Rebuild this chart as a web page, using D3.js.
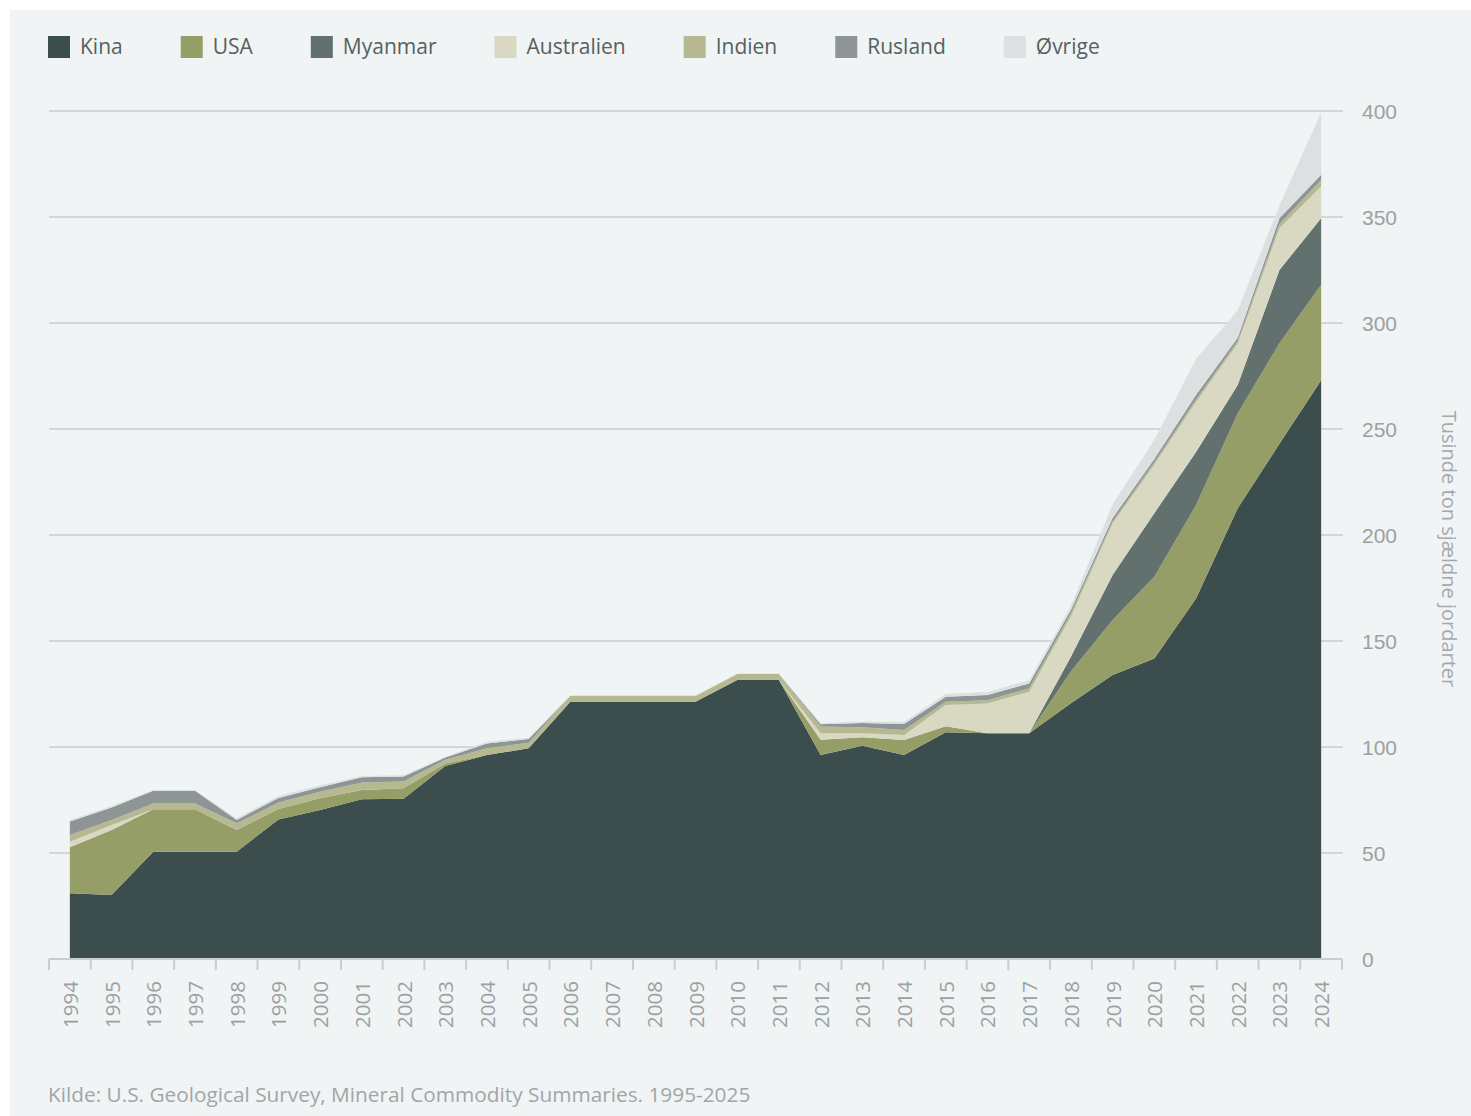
<!DOCTYPE html>
<html>
<head>
<meta charset="utf-8">
<script src="https://cdn.jsdelivr.net/npm/d3@7"></script>
<style>
  html, body { margin: 0; padding: 0; background: #fff; }
  svg { display: block; font-family: "Open Sans", "Liberation Sans", sans-serif; }
</style>
</head>
<body>
<svg id="chart" width="1471" height="1116"></svg>
<script>
// production, thousand tonnes of rare earth oxides
var years = d3.range(1994, 2025);
var series = ["Kina", "USA", "Myanmar", "Australien", "Indien", "Rusland", "Øvrige"];
var colors = ["#3b4d4c", "#969e68", "#63716e", "#d8d8c3", "#b6b88f", "#8d9695", "#dde0e0"];

var kina      = [31, 30.2, 50.6, 50.6, 50.6, 65.8, 70.3, 75.3, 75.6, 91, 96.2, 99.4, 121.4, 121.4, 121.4, 121.4, 131.6, 131.6, 96.2, 100.6, 96.2, 107, 106.5, 106.5, 120.6, 134, 141.8, 170.1, 212.6, 243, 273];
var usa       = [21.7, 30.6, 20, 20, 10.2, 5, 5.5, 4.4, 5, 1.2, 0, 0, 0, 0, 0, 0, 0, 0, 7.2, 4, 7.1, 2.8, 0, 0, 15, 25.9, 38.5, 44, 44.8, 47.4, 45];
var myanmar   = [0, 0, 0, 0, 0, 0, 0, 0, 0, 0, 0, 0, 0, 0, 0, 0, 0, 0, 0, 0, 0, 0, 0, 0, 7, 21.2, 30, 25, 13.4, 34.6, 31.4];
var australia = [2.6, 2.4, 0, 0, 0, 0, 0, 0, 0, 0, 0, 0, 0, 0, 0, 0, 0, 0, 3.1, 1.9, 2.4, 10, 14, 19.6, 19, 24.4, 22.8, 23.6, 19.5, 19.7, 15];
var indien    = [3.2, 2.4, 2.8, 2.8, 3.2, 3, 3.1, 3.5, 3.1, 1.8, 3.2, 2.6, 2.7, 2.7, 2.7, 2.7, 2.8, 2.8, 3.2, 2.8, 2.3, 1.6, 1.5, 1.6, 1.5, 1, 1.2, 1.3, 1.2, 2, 3];
var rusland   = [6.3, 5.9, 6, 6, 1.6, 2.2, 2.1, 2.5, 2.4, 1, 2.3, 1.8, 0, 0, 0, 0, 0, 0, 1, 2, 2.8, 2.3, 2.5, 2.3, 1.5, 1.5, 1.5, 2, 1.5, 2.7, 2.5];
var ovrige    = [0.8, 0.7, 0.3, 0.3, 0.8, 0.9, 1, 0.6, 0.6, 0.4, 0.8, 0.6, 0.3, 0.3, 0.3, 0.3, 0.3, 0.3, 0.6, 0.7, 1.1, 1.3, 1.5, 1.5, 2, 6.5, 9, 17, 13, 6, 29.5];
var yTicks = [0, 50, 100, 150, 200, 250, 300, 350, 400];

var table = years.map(function(yr, i) {
  return {
    year: yr,
    "Kina": kina[i], "USA": usa[i], "Myanmar": myanmar[i], "Australien": australia[i],
    "Indien": indien[i], "Rusland": rusland[i], "Øvrige": ovrige[i]
  };
});

var svg = d3.select("#chart");

svg.append("rect")
  .attr("x", 10).attr("y", 10)
  .attr("width", 1461).attr("height", 1106)
  .attr("fill", "#f0f4f5");

var x = d3.scaleBand().domain(years).range([49, 1342]).padding(0),
    y = d3.scaleLinear().domain([0, 400]).range([959, 111]),
    color = d3.scaleOrdinal().domain(series).range(colors);

var cx = function(yr) { return x(yr) + x.bandwidth() / 2; };

//
// grid + right axis
var grid = svg.append("g").attr("class", "grid");
grid.selectAll("line")
  .data(yTicks.filter(function(d) { return d > 0; }))
  .enter().append("line")
  .attr("x1", 49).attr("x2", 1343)
  .attr("y1", y).attr("y2", y)
  .attr("stroke", "#d3d7d9").attr("stroke-width", 2);

svg.append("g")
  .attr("transform", "translate(1343,1)")
  .call(d3.axisRight(y).tickValues(yTicks).tickSize(0).tickPadding(19))
  .call(function(g) {
    g.select(".domain").remove();
    g.selectAll("text")
      .attr("fill", "#9ba1a2")
      .style("font-size", "21px");
  });

svg.append("text")
  .attr("transform", "translate(1442,549) rotate(90)")
  .attr("text-anchor", "middle")
  .attr("fill", "#a4aaab")
  .style("font-size", "20px")
  .text("Tusinde ton sjældne jordarter");

//
// stacked areas
var stack = d3.stack().keys(series);
var area = d3.area()
  .x(function(d) { return cx(d.data.year); })
  .y0(function(d) { return y(d[0]); })
  .y1(function(d) { return y(d[1]); });

svg.append("g").selectAll("path")
  .data(stack(table))
  .enter().append("path")
  .attr("d", area)
  .attr("fill", function(d) { return color(d.key); });

//
// bottom axis, ticks on band edges
var xAxis = svg.append("g").attr("transform", "translate(0,959)");
xAxis.append("line")
  .attr("x1", 49).attr("x2", 1342)
  .attr("stroke", "#c9cdcf").attr("stroke-width", 2);
xAxis.selectAll("line.tick")
  .data(years.concat([2025]))
  .enter().append("line")
  .attr("class", "tick")
  .attr("x1", function(d, i) { return 49 + i * x.bandwidth(); })
  .attr("x2", function(d, i) { return 49 + i * x.bandwidth(); })
  .attr("y1", 0).attr("y2", 11)
  .attr("stroke", "#c9cdcf").attr("stroke-width", 2);
xAxis.selectAll("text")
  .data(years)
  .enter().append("text")
  .attr("transform", function(d) { return "translate(" + (cx(d) + 8) + ",22) rotate(-90)"; })
  .attr("text-anchor", "end")
  .attr("fill", "#9ba1a2")
  .style("font-size", "20.5px")
  .text(String);

//
// legend
var legend = svg.append("g").attr("transform", "translate(48,36)");
var lx = 0;
series.forEach(function(s) {
  var item = legend.append("g").attr("transform", "translate(" + lx + ",0)");
  item.append("rect").attr("width", 22).attr("height", 22).attr("fill", color(s));
  var t = item.append("text")
    .attr("x", 32).attr("y", 18)
    .attr("fill", "#56615f")
    .style("font-size", "21px")
    .text(s);
  lx += 32 + t.node().getComputedTextLength() + 58;
});

svg.append("text")
  .attr("x", 48).attr("y", 1102)
  .attr("fill", "#a0a6a7")
  .style("font-size", "20.8px")
  .text("Kilde: U.S. Geological Survey, Mineral Commodity Summaries. 1995-2025");
</script>
</body>
</html>
